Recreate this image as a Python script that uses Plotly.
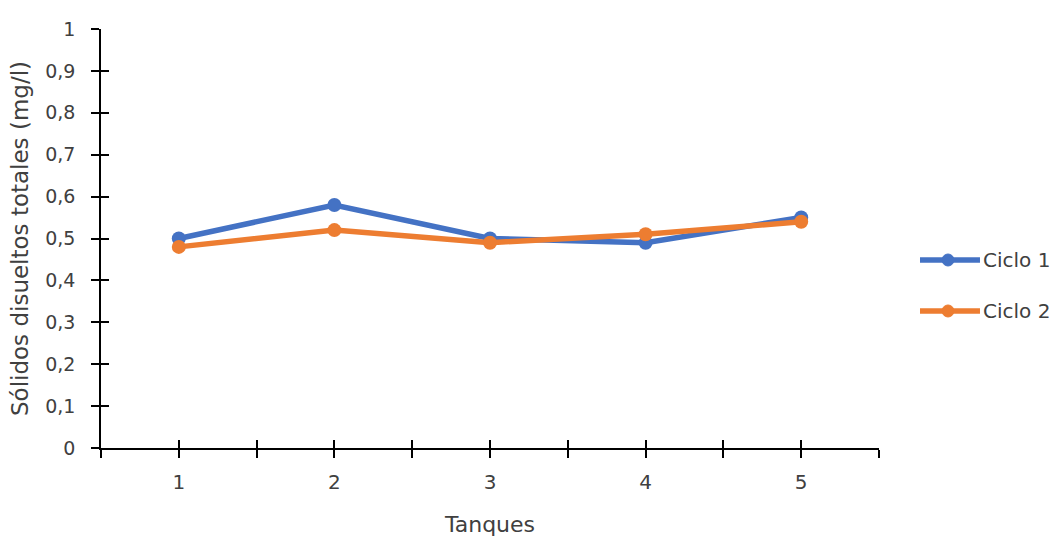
import plotly.graph_objects as go

tanques = [1, 2, 3, 4, 5]
ciclo1 = [0.50, 0.58, 0.50, 0.49, 0.55]
ciclo2 = [0.48, 0.52, 0.49, 0.51, 0.54]

y_ticks = [0, 0.1, 0.2, 0.3, 0.4, 0.5, 0.6, 0.7, 0.8, 0.9, 1]
x_ticks = [0.5, 1, 1.5, 2, 2.5, 3, 3.5, 4, 4.5, 5, 5.5]
x_text = ["" if v != int(v) else str(int(v)) for v in x_ticks]

series = [("Ciclo 1", ciclo1, "#4472C4"), ("Ciclo 2", ciclo2, "#ED7D31")]

TXT = "#404040"
FONT = "DejaVu Sans"

fig = go.Figure()
for name, vals, col in series:
    fig.add_trace(go.Scatter(x=tanques, y=vals, name=name, mode="lines+markers",
                             line=dict(color=col, width=5.5), marker=dict(size=14, color=col),
                             showlegend=False))

axis_common = dict(showgrid=False, zeroline=False, showline=True, linecolor="black",
                   linewidth=1.5, tickcolor="black", tickwidth=1.5, ticklen=8,
                   automargin=False)

fig.update_layout(
    width=1057, height=539,
    margin=dict(l=101, r=178, t=29, b=91),
    paper_bgcolor="white", plot_bgcolor="white",
    separators=",.",
    font=dict(family=FONT, color=TXT, size=19),
    xaxis=dict(range=[0.5, 5.5], tickmode="array", tickvals=x_ticks, ticktext=x_text,
               ticks="outside", tickfont=dict(size=20, color=TXT), ticklabelstandoff=7,
               title=dict(text="Tanques", font=dict(size=22, color=TXT), standoff=24),
               **axis_common),
    yaxis=dict(range=[0, 1], tickmode="array", tickvals=y_ticks,
               ticks="outside", tickfont=dict(size=19, color=TXT), ticklabelstandoff=12,
               title=dict(text="Sólidos disueltos totales (mg/l)", font=dict(size=23, color=TXT), standoff=10),
               **axis_common),
    xaxis2=dict(range=[0.5, 5.5], overlaying="x", tickmode="array", tickvals=x_ticks,
                showticklabels=False, ticks="inside", side="bottom", anchor="y2", **axis_common),
    yaxis2=dict(range=[0, 1], overlaying="y", tickmode="array", tickvals=y_ticks,
                showticklabels=False, ticks="inside", side="left", anchor="x2", **axis_common),
)
# secondary axes carry the inner half of the crossing tick marks
fig.add_trace(go.Scatter(x=[None], y=[None], xaxis="x2", yaxis="y2", showlegend=False,
                         hoverinfo="skip"))

# legend drawn at the right: long line with a centred marker, then the label
leg_x0, leg_x1, leg_xm = 1.0527, 1.1298, 1.0887
leg_y = [0.4487, 0.327]
rx, ry = 0.0077, 0.0143
for (name, _, col), yy in zip(series, leg_y):
    fig.add_shape(type="line", xref="paper", yref="paper", x0=leg_x0, x1=leg_x1, y0=yy, y1=yy,
                  line=dict(color=col, width=5.5))
    fig.add_shape(type="circle", xref="paper", yref="paper", x0=leg_xm - rx, x1=leg_xm + rx,
                  y0=yy - ry, y1=yy + ry, fillcolor=col, line=dict(color=col, width=1))
    fig.add_annotation(text=name, xref="paper", yref="paper", x=leg_x1 + 0.001, y=yy,
                       xanchor="left", yanchor="middle", showarrow=False,
                       font=dict(size=20, color=TXT, family=FONT))

fig.write_html("out.html")
